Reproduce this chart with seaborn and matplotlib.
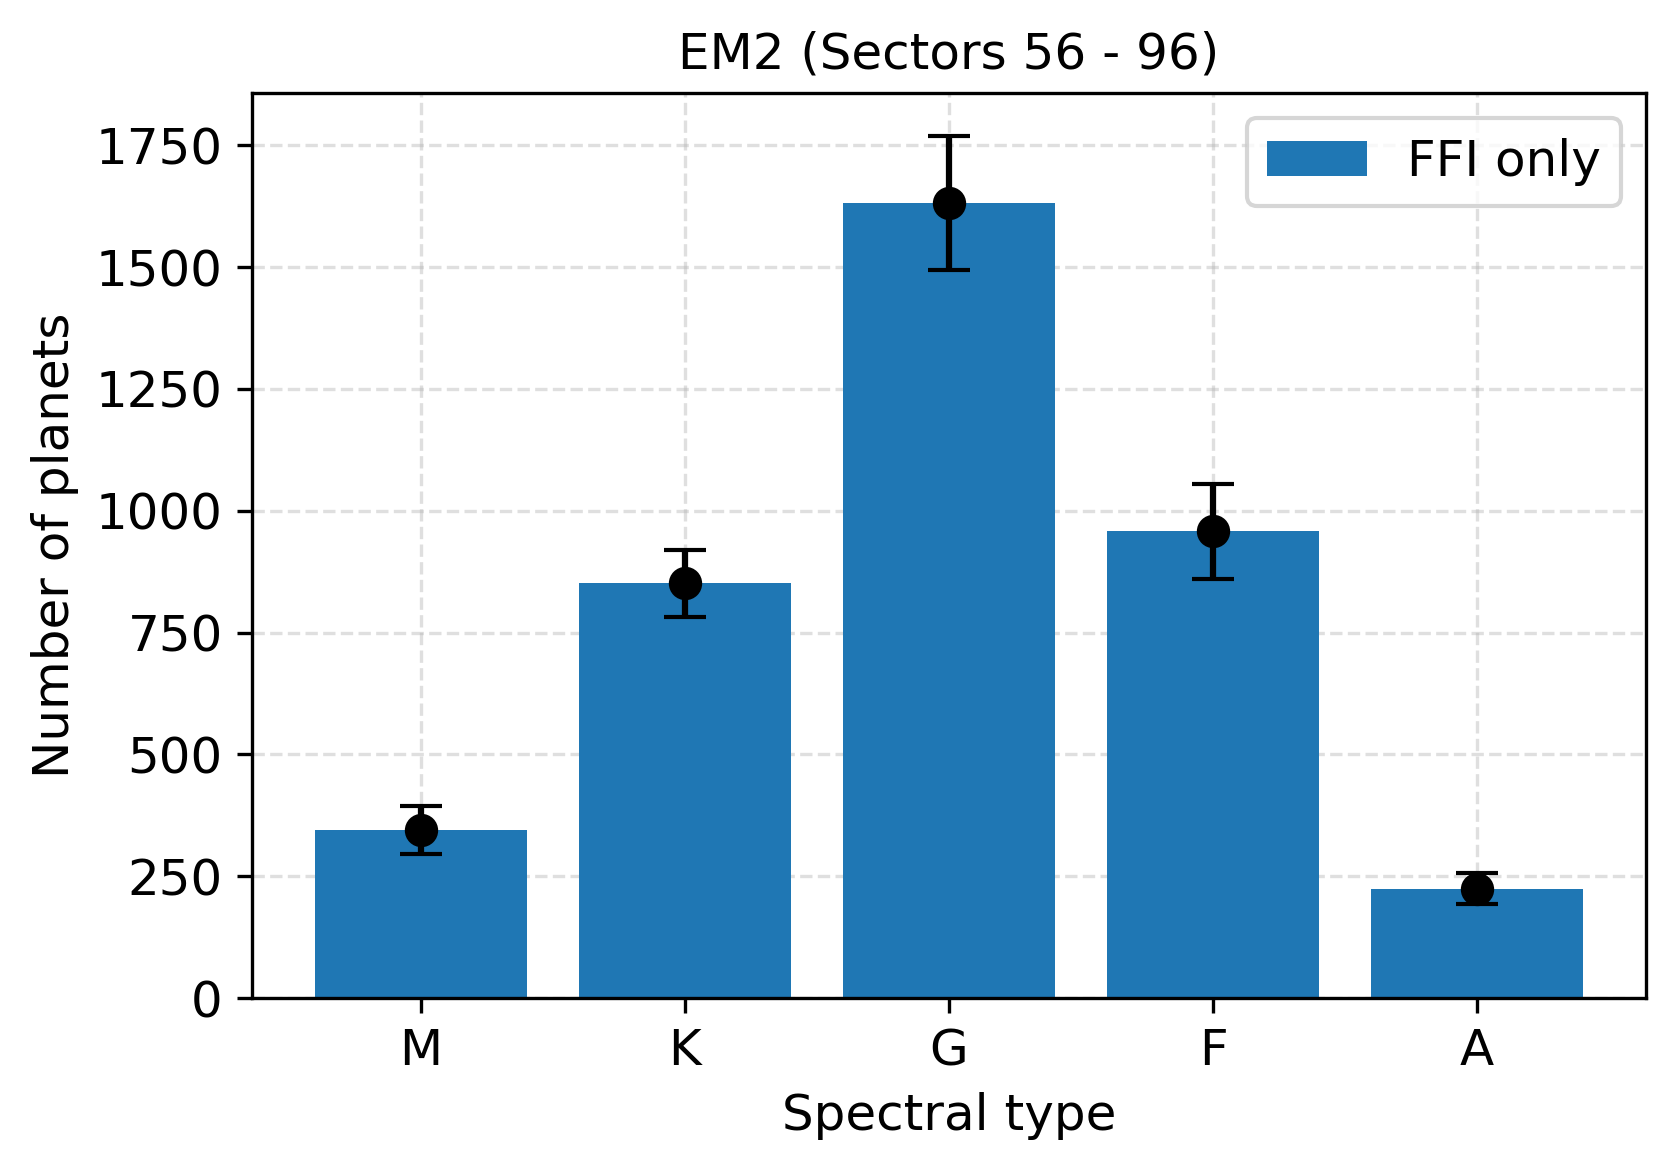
import numpy as np
import matplotlib
matplotlib.use('Agg')
import matplotlib.pyplot as plt
import seaborn as sns

# Planet yields per spectral type
spectral_types = ['M', 'K', 'G', 'F', 'A']
n_planets = [345, 851, 1632, 958, 224]
n_err = [50, 68, 137, 97, 32]

plt.rcParams['font.size'] = 12

fig = plt.figure(figsize=(1675 / 300, 1170 / 300), dpi=300)
ax = fig.add_axes([0.1504, 0.147, 0.8323, 0.7735])

sns.barplot(x=spectral_types, y=n_planets, color='#1f77b4', saturation=1,
            width=0.8, label='FFI only', ax=ax, zorder=2)

pos = np.arange(len(spectral_types))
ax.errorbar(pos, n_planets, yerr=n_err, fmt='o', color='black',
            ms=7, capsize=5, zorder=3)

ax.set_xlim(-0.64, len(spectral_types) - 1 + 0.64)
ax.grid(True, linestyle='--', alpha=0.4, zorder=0)
ax.set_axisbelow(True)

ax.set_title('EM2 (Sectors 56 - 96)', fontsize=12)
ax.set_xlabel('Spectral type', fontsize=12)
ax.set_ylabel('Number of planets', fontsize=12)
ax.tick_params(labelsize=12)
ax.legend(loc='upper right', fontsize=12)

fig.savefig('out.png', dpi=300)
